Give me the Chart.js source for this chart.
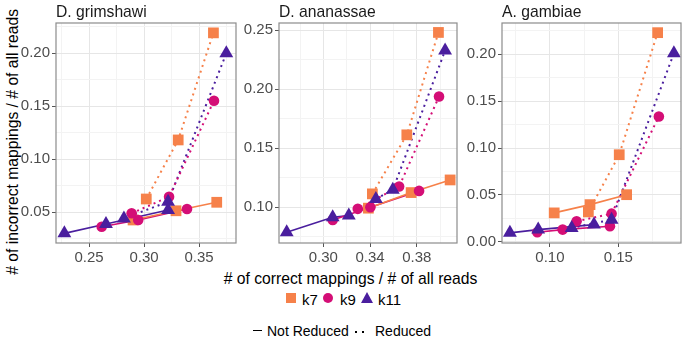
<!DOCTYPE html>
<html>
<head>
<meta charset="utf-8">
<script src="https://cdn.jsdelivr.net/npm/chart.js@4/dist/chart.umd.min.js"></script>
<style>
  body { margin: 0; width: 685px; height: 342px; background: #fff; position: relative; overflow: hidden;
         font-family: "Liberation Sans", Arial, sans-serif; }
  canvas { position: absolute; top: 0; }
  .txt { position: absolute; line-height: 1; white-space: nowrap; color: #000; }
  .strip { top: 4px; font-size: 15.7px; color: #1a1a1a; }
  #ytitle { left: -137.5px; top: 134px; width: 300px; text-align: center; font-size: 15.7px; transform: rotate(-90deg); }
  #xtitle { left: 200px; top: 271px; width: 301px; text-align: center; font-size: 15.7px; }
  .key { position: absolute; }
</style>
</head>
<body>
<div class="txt" id="ytitle"># of incorrect mappings / # of all reads</div>
<div class="txt" id="xtitle"># of correct mappings / # of all reads</div>
<div id="legend"></div>
<script>
const panelTitles = ['D. grimshawi', 'D. ananassae', 'A. gambiae'];
const seriesNames = ['k7', 'k9', 'k11'];
const lineTypeNames = ['Not Reduced', 'Reduced'];

// D. grimshawi  [correct, incorrect]
const grimK7Full = [[0.290, 0.0425], [0.329, 0.0512], [0.366, 0.0592]];
const grimK7Reduced = [[0.302, 0.0623], [0.331, 0.118], [0.363, 0.219]];
const grimK9Full = [[0.2615, 0.0361], [0.2947, 0.0425], [0.339, 0.0528]];
const grimK9Reduced = [[0.2887, 0.0488], [0.3227, 0.0644], [0.3635, 0.155]];
const grimK11Full = [[0.2276, 0.0299], [0.2654, 0.0387], [0.3218, 0.052]];
const grimK11Reduced = [[0.2817, 0.044], [0.3218, 0.0597], [0.3747, 0.1997]];

// D. ananassae
const anaK7Full = [[0.3386, 0.0992], [0.3752, 0.1124], [0.4086, 0.1231]];
const anaK7Reduced = [[0.342, 0.1113], [0.3715, 0.1613], [0.3986, 0.248]];
const anaK9Full = [[0.308, 0.0892], [0.3403, 0.100], [0.382, 0.1138]];
const anaK9Reduced = [[0.3295, 0.0986], [0.3649, 0.1175], [0.3991, 0.1937]];
const anaK11Full = [[0.2686, 0.0788], [0.308, 0.0915], [0.3218, 0.0929]];
const anaK11Reduced = [[0.345, 0.107], [0.3595, 0.1147], [0.4043, 0.2327]];

// A. gambiae
const gamK7Full = [[0.1031, 0.0309], [0.1293, 0.0397], [0.1561, 0.0503]];
const gamK7Reduced = [[0.1281, 0.0319], [0.1507, 0.0929], [0.1788, 0.223]];
const gamK9Full = [[0.0907, 0.0102], [0.1093, 0.0131], [0.1439, 0.0166]];
const gamK9Reduced = [[0.1195, 0.0219], [0.1451, 0.0301], [0.1797, 0.1336]];
const gamK11Full = [[0.0707, 0.0096], [0.0914, 0.0131], [0.1322, 0.0184]];
const gamK11Reduced = [[0.1159, 0.0149], [0.1451, 0.0237], [0.1907, 0.201]];

// axis ticks
const grimXTicks = [0.25, 0.30, 0.35];
const grimYTicks = [0.05, 0.10, 0.15, 0.20];
const anaXTicks = [0.30, 0.34, 0.38];
const anaYTicks = [0.10, 0.15, 0.20, 0.25];
const gamXTicks = [0.10, 0.15];
const gamYTicks = [0.00, 0.05, 0.10, 0.15, 0.20];

const colors = ['#F6814A', '#D40E76', '#4A1E9E'];
const pointStyles = ['rect', 'circle', 'triangle'];
const pointSizes = [7.6, 5.3, 8];

const panels = [
  { left: 56, width: 180, x: [0.2200, 0.3835], y: [0.0208, 0.2283], xTicks: grimXTicks, yTicks: grimYTicks,
    full: [grimK7Full, grimK9Full, grimK11Full], reduced: [grimK7Reduced, grimK9Reduced, grimK11Reduced] },
  { left: 279, width: 178, x: [0.2620, 0.4145], y: [0.0697, 0.2560], xTicks: anaXTicks, yTicks: anaYTicks,
    full: [anaK7Full, anaK9Full, anaK11Full], reduced: [anaK7Reduced, anaK9Reduced, anaK11Reduced] },
  { left: 502, width: 179, x: [0.0649, 0.1959], y: [-0.0012, 0.2333], xTicks: gamXTicks, yTicks: gamYTicks,
    full: [gamK7Full, gamK9Full, gamK11Full], reduced: [gamK7Reduced, gamK9Reduced, gamK11Reduced] }
];

const Y_AXIS_W = 40;
const TOP = 23;
const PLOT_H = 220;
const X_AXIS_H = 27;

// major ticks plus ggplot-style minor ticks half way between
function buildTicks(majors, min, max) {
  const step = majors[1] - majors[0];
  const ticks = majors.map(v => ({ value: v, isMajor: true }));
  for (let v = majors[0] - step / 2; v <= max + 1e-9; v += step) {
    if (v >= min - 1e-9) ticks.push({ value: v, isMajor: false });
  }
  return ticks.sort((a, b) => a.value - b.value);
}

function toXY(pts) {
  return pts.map(([x, y]) => ({ x, y }));
}

const panelBorder = {
  id: 'panelBorder',
  afterDatasetsDraw(chart) {
    const { ctx, chartArea: a } = chart;
    ctx.save();
    ctx.strokeStyle = '#8c8c8c';
    ctx.lineWidth = 1.2;
    ctx.strokeRect(a.left, a.top, a.right - a.left, a.bottom - a.top);
    ctx.restore();
  }
};

function axisOptions(range, majors, isX) {
  return {
    type: 'linear',
    min: range[0],
    max: range[1],
    afterBuildTicks: scale => { scale.ticks = buildTicks(majors, range[0], range[1]); },
    afterFit: scale => {
      if (isX) scale.height = X_AXIS_H;
      else scale.width = Y_AXIS_W;
    },
    border: { display: false },
    grid: {
      color: c => (c.tick && c.tick.isMajor ? '#e6e6e6' : '#f3f3f3'),
      lineWidth: 1,
      drawTicks: true,
      tickLength: 4,
      tickColor: c => (c.tick && c.tick.isMajor ? '#555555' : 'rgba(0,0,0,0)')
    },
    ticks: {
      autoSkip: false,
      maxRotation: 0,
      padding: 2,
      color: '#4d4d4d',
      font: { family: '"Liberation Sans", Arial, sans-serif', size: 15 },
      callback: (value, index, ticks) => (ticks[index].isMajor ? value.toFixed(2) : '')
    }
  };
}

function renderPanel(p, i) {
  const canvas = document.createElement('canvas');
  const w = Y_AXIS_W + p.width + 4;
  const h = TOP + PLOT_H + X_AXIS_H;
  canvas.width = w;
  canvas.height = h;
  canvas.style.left = (p.left - Y_AXIS_W) + 'px';
  document.body.appendChild(canvas);

  const strip = document.createElement('div');
  strip.className = 'txt strip';
  strip.style.left = p.left + 'px';
  strip.textContent = panelTitles[i];
  document.body.appendChild(strip);

  const datasets = [];
  seriesNames.forEach((name, k) => {
    // lines go under all the points
    datasets.push({
      label: name + ' ' + lineTypeNames[0],
      data: toXY(p.full[k]),
      showLine: true,
      pointRadius: 0,
      borderColor: colors[k],
      borderWidth: 1.6,
      order: 10
    });
    datasets.push({
      label: name + ' ' + lineTypeNames[1],
      data: toXY(p.reduced[k]),
      showLine: true,
      pointRadius: 0,
      borderColor: colors[k],
      borderWidth: 2,
      borderDash: [2, 4],
      order: 10
    });
    datasets.push({
      label: name,
      data: toXY(p.full[k].concat(p.reduced[k])),
      showLine: false,
      pointStyle: pointStyles[k],
      pointRadius: pointSizes[k],
      backgroundColor: colors[k],
      borderColor: colors[k],
      borderWidth: 0,
      order: 2 - k
    });
  });

  new Chart(canvas, {
    type: 'scatter',
    data: { datasets },
    options: {
      responsive: false,
      animation: false,
      events: [],
      layout: { autoPadding: false, padding: { top: TOP, right: 4, bottom: 0, left: 0 } },
      plugins: { legend: { display: false }, tooltip: { enabled: false } },
      scales: {
        x: axisOptions(p.x, p.xTicks, true),
        y: axisOptions(p.y, p.yTicks, false)
      }
    },
    plugins: [panelBorder]
  });
}

panels.forEach(renderPanel);

// legend (html)
const legend = document.getElementById('legend');
function addEl(css, text) {
  const d = document.createElement('div');
  d.style.cssText = css;
  if (text) {
    d.className = 'txt';
    d.textContent = text;
  } else {
    d.className = 'key';
  }
  legend.appendChild(d);
}
const keyLefts = [302, 340, 378];
addEl(`left:286px;top:293px;width:10px;height:10px;background:${colors[0]}`);
addEl(`left:323px;top:293px;width:10px;height:10px;border-radius:50%;background:${colors[1]}`);
addEl(`left:360.5px;top:292px;width:0;height:0;border-left:6.5px solid transparent;border-right:6.5px solid transparent;border-bottom:11px solid ${colors[2]}`);
seriesNames.forEach((name, k) => addEl(`left:${keyLefts[k]}px;top:291.5px;font-size:15px`, name));

addEl('left:253px;top:330px;width:9px;height:0;border-top:1.8px solid #000');
addEl('left:267px;top:323.5px;font-size:14px', lineTypeNames[0]);
addEl('left:355px;top:331px;width:2px;height:2px;background:#000');
addEl('left:362px;top:331px;width:2px;height:2px;background:#000');
addEl('left:375px;top:323.5px;font-size:14px', lineTypeNames[1]);
</script>
</body>
</html>
